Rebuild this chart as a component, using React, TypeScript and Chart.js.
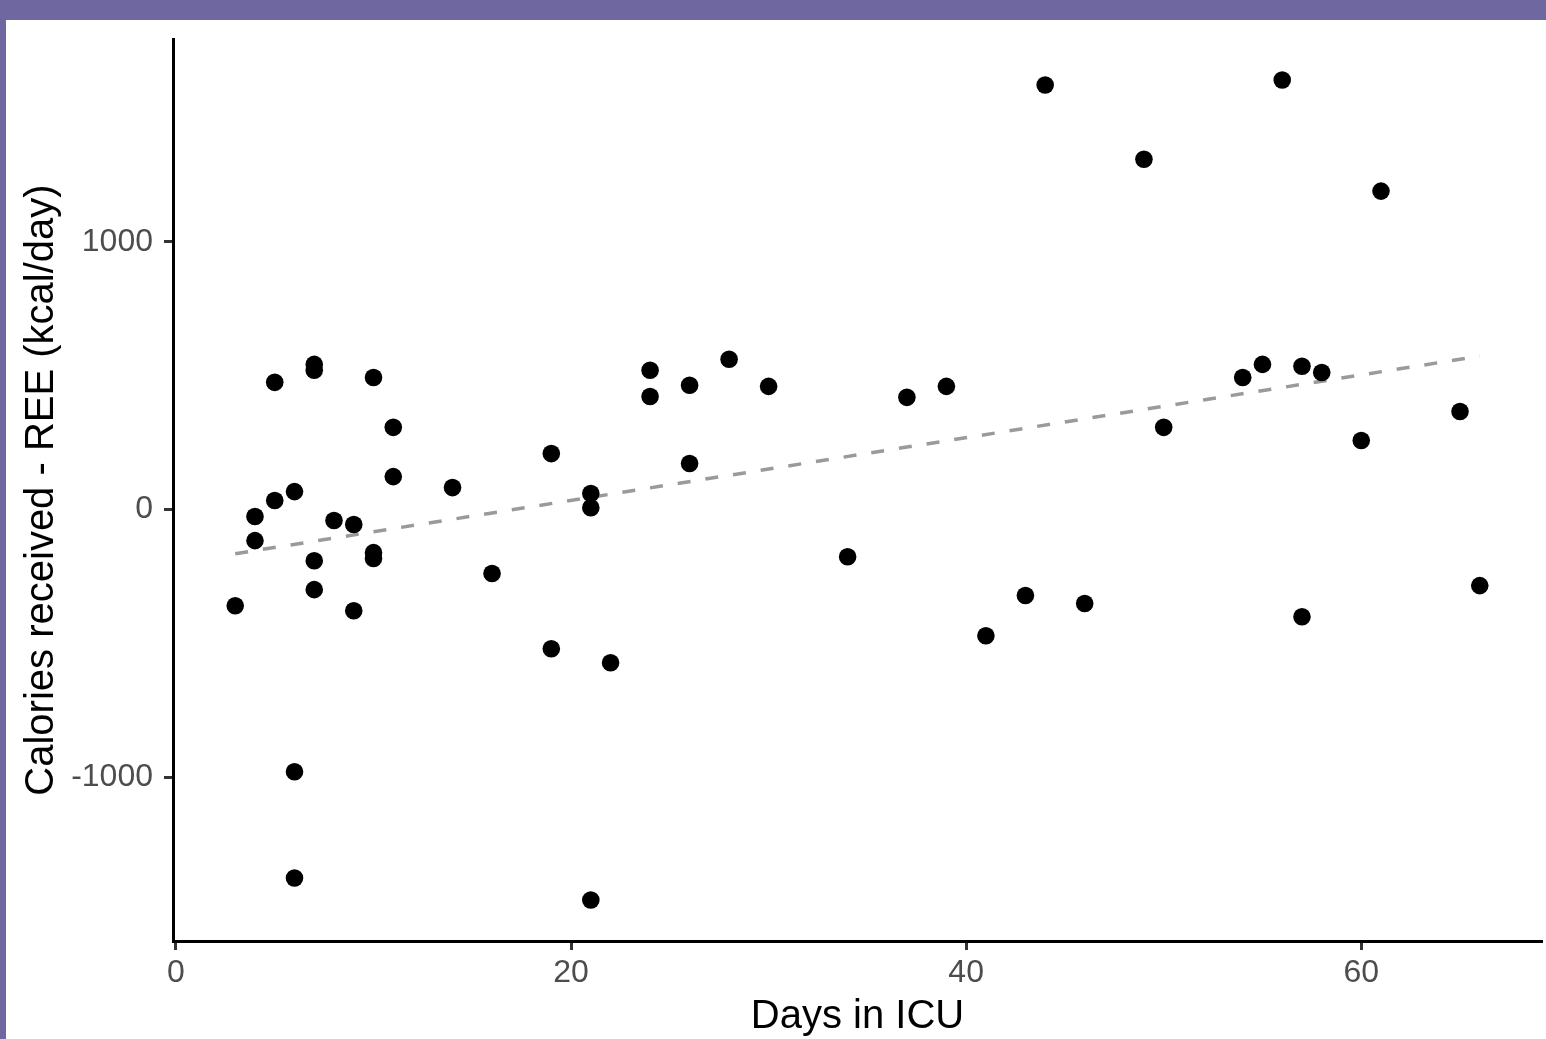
import React, { useEffect, useRef } from "react";
import { Chart, registerables } from "chart.js";

Chart.register(...registerables);

// ---- Data ----
const daysInICU = [3, 4, 4, 5, 5, 6, 6, 6, 7, 7, 7, 7, 8, 9, 9, 10, 10, 10, 11, 11, 14, 16, 19, 19, 21, 21, 21, 22, 24, 24, 26, 26, 28, 30, 34, 37, 39, 41, 43, 44, 46, 49, 50, 54, 55, 56, 57, 57, 58, 60, 61, 65, 66];
const calorieBalance = [-359, -26, -116, 475, 34, 67, -979, -1376, 542, 520, -191, -299, -41, -56, -378, 493, -161, -183, 307, 123, 82, -239, 209, -520, 60, 7, -1458, -572, 520, 422, 464, 172, 561, 460, -176, 419, 460, -471, -321, 1585, -351, 1308, 307, 493, 542, 1604, 535, -400, 512, 258, 1189, 366, -284];

const fitLineX = [3, 66];
const fitLineY = [-165, 573];

const xTicks = [0, 20, 40, 60];
const yTicks = [-1000, 0, 1000];

const xRange = [-0.15, 69.15];
const yRange = [-1611, 1757];

const xTitle = "Days in ICU";
const yTitle = "Calories received - REE (kcal/day)";

const FONT = "'Liberation Sans', Arial, Helvetica, sans-serif";

export default function App() {
  const canvasRef = useRef<HTMLCanvasElement | null>(null);

  useEffect(() => {
    const canvas = canvasRef.current;
    if (!canvas) return;
    const points = daysInICU.map((d, i) => ({ x: d, y: calorieBalance[i] }));
    const fit = fitLineX.map((d, i) => ({ x: d, y: fitLineY[i] }));

    const chart = new Chart(canvas, {
      type: "scatter",
      data: {
        datasets: [
          {
            label: "fit",
            type: "line",
            data: fit,
            borderColor: "#9a9a9a",
            borderWidth: 3.5,
            borderDash: [13, 15],
            pointRadius: 0,
            fill: false,
            order: 2,
          } as any,
          {
            label: "patients",
            data: points,
            backgroundColor: "#000000",
            borderColor: "#000000",
            borderWidth: 0,
            pointRadius: 8.8,
            pointHoverRadius: 8.8,
            order: 1,
          },
        ],
      },
      options: {
        animation: false,
        responsive: false,
        devicePixelRatio: 1,
        events: [],
        layout: { autoPadding: false, padding: { top: 19, right: 4, left: 0, bottom: 0 } },
        plugins: {
          legend: { display: false },
          tooltip: { enabled: false },
        },
        scales: {
          x: {
            type: "linear",
            min: xRange[0],
            max: xRange[1],
            afterBuildTicks: (s: any) => {
              s.ticks = xTicks.map((v) => ({ value: v }));
            },
            afterFit: (s: any) => {
              s.height = 98;
              s.paddingLeft = 0;
              s.paddingRight = 0;
              s.paddingTop = 0;
              s.paddingBottom = 0;
            },
            grid: {
              display: true,
              drawOnChartArea: false,
              drawTicks: true,
              tickLength: 9,
              tickWidth: 3,
              tickColor: "#333333",
            },
            border: { display: true, color: "#000000", width: 3 },
            ticks: {
              color: "#4d4d4d",
              font: { family: FONT, size: 32 },
              padding: 4,
              maxRotation: 0,
              autoSkip: false,
              callback: (v: any) => String(v),
            },
            title: {
              display: true,
              text: xTitle,
              color: "#000000",
              font: { family: FONT, size: 40 },
              padding: { top: 0, bottom: -2 },
            },
          },
          y: {
            type: "linear",
            min: yRange[0],
            max: yRange[1],
            afterBuildTicks: (s: any) => {
              s.ticks = yTicks.map((v) => ({ value: v }));
            },
            afterFit: (s: any) => {
              s.width = 167;
              s.paddingLeft = 0;
              s.paddingRight = 0;
              s.paddingTop = 0;
              s.paddingBottom = 0;
            },
            grid: {
              display: true,
              drawOnChartArea: false,
              drawTicks: true,
              tickLength: 9,
              tickWidth: 3,
              tickColor: "#333333",
            },
            border: { display: true, color: "#000000", width: 3 },
            ticks: {
              color: "#4d4d4d",
              font: { family: FONT, size: 32 },
              padding: 11,
              autoSkip: false,
              callback: (v: any) => String(v),
            },
            title: {
              display: true,
              text: yTitle,
              color: "#000000",
              font: { family: FONT, size: 40 },
              padding: { top: 12, bottom: 0 },
            },
          },
        },
      },
    });
    return () => chart.destroy();
  }, []);

  return (
    <div
      style={{
        position: "fixed",
        left: 0,
        top: 0,
        width: 1546,
        height: 1039,
        background: "#6f67a0",
      }}
    >
      <div
        style={{
          position: "absolute",
          left: 6,
          top: 20,
          width: 1540,
          height: 1019,
          background: "#ffffff",
        }}
      >
        <canvas
          ref={canvasRef}
          width={1540}
          height={1019}
          style={{ display: "block", width: 1540, height: 1019 }}
        />
      </div>
    </div>
  );
}
